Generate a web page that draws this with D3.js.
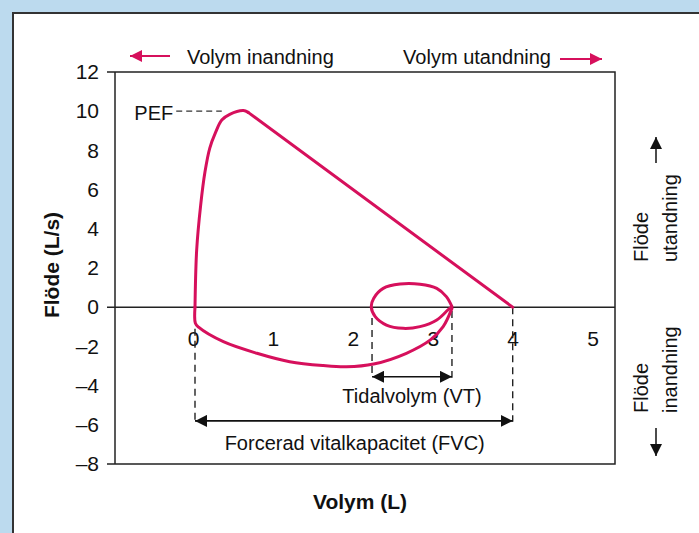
<!DOCTYPE html>
<html>
<head>
<meta charset="utf-8">
<script src="https://cdn.jsdelivr.net/npm/d3@7"></script>
<style>
  html, body { margin: 0; padding: 0; background: #bcdaee; }
  svg { display: block; font-family: "Liberation Sans", Arial, sans-serif; }
</style>
</head>
<body>
<div id="chart"></div>
<script>
// ticks
var xTicks = [0, 1, 2, 3, 4, 5];
var yTicks = [12, 10, 8, 6, 4, 2, 0, -2, -4, -6, -8];

// expiration: steep rise to PEF, then straight fall to residual volume
var expCurve = [[0.025, 0], [0.046, 2.92], [0.096, 5.21], [0.15, 6.91], [0.21, 8.12],
                [0.28, 8.89], [0.36, 9.55], [0.46, 9.84], [0.63, 10.03], [0.69, 9.94]];
var expLine = [[0.69, 9.94], [4.0, 0]];

// inspiration (below the axis)
var inspCurve = [[0.025, 0], [0.03, -0.82], [0.07, -1.02], [0.38, -1.76], [0.80, -2.35],
                 [1.21, -2.78], [1.63, -2.98], [1.92, -3.04], [2.26, -2.90], [2.67, -2.35],
                 [2.97, -1.67], [3.13, -0.99], [3.24, -0.06]];

// tidal breathing loop
var tidalLoop = [[3.24, 0.03], [3.17, 0.54], [3.05, 0.96], [2.84, 1.17], [2.59, 1.18],
                 [2.38, 0.96], [2.26, 0.45], [2.23, 0.03], [2.28, -0.48], [2.42, -0.91],
                 [2.63, -1.08], [2.84, -0.99], [3.05, -0.65], [3.19, -0.14], [3.24, 0.03]];

var pefFlow = 10;
var pefDash = [-0.21, 0.36];
var tidalRange = [2.24, 3.24];
var fvcRange = [0.025, 4.0];

var red = "#d6105c";
var ink = "#111";
var fs = "20px";

var W = 699, H = 533;
var plotLeft = 115, plotRight = 615, plotTop = 72, plotBottom = 464;

var svg = d3.select("#chart")
  .append("svg")
    .attr("width", W)
    .attr("height", H);

// white panel
svg.append("rect")
  .attr("x", 13).attr("y", 13)
  .attr("width", W).attr("height", H)
  .attr("fill", "#fff")
  .attr("stroke", "#333")
  .attr("stroke-width", 2);

var x = d3.scaleLinear().domain([0, 4]).range([193, 512.7]);
var y = d3.scaleLinear().domain([-8, 12]).range([plotBottom, plotTop]);

var defs = svg.append("defs");
function marker(id, colour) {
  defs.append("marker")
    .attr("id", id)
    .attr("viewBox", "0 0 12 12")
    .attr("refX", 12).attr("refY", 6)
    .attr("markerWidth", 12).attr("markerHeight", 12)
    .attr("markerUnits", "userSpaceOnUse")
    .attr("orient", "auto-start-reverse")
    .append("path")
      .attr("d", "M0,0 L12,6 L0,12 Z")
      .attr("fill", colour);
}
marker("arrRed", red);
marker("arrBlack", ink);

// frame: box lines, top/bottom extend left as ticks
svg.append("path")
  .attr("d", "M107," + plotTop + "H" + plotRight + "V" + plotBottom + "H107")
  .attr("fill", "none").attr("stroke", "#222").attr("stroke-width", 1.5);
svg.append("line")
  .attr("x1", plotLeft).attr("x2", plotLeft)
  .attr("y1", plotTop).attr("y2", plotBottom)
  .attr("stroke", "#222").attr("stroke-width", 1.5);
svg.append("line")
  .attr("x1", 107).attr("x2", plotRight)
  .attr("y1", y(0)).attr("y2", y(0))
  .attr("stroke", "#222").attr("stroke-width", 1.5);

var fmt = function(d) { return d < 0 ? "\u2013" + Math.abs(d) : d; };

var yAxis = svg.append("g")
  .attr("transform", "translate(107,0)")
  .call(d3.axisLeft(y).tickValues(yTicks).tickSize(0).tickPadding(8).tickFormat(fmt));
yAxis.select(".domain").remove();
yAxis.selectAll("text").style("font-size", "21px").attr("fill", ink)
  .style("font-family", "Liberation Sans, Arial, sans-serif");

var xAxis = svg.append("g")
  .attr("transform", "translate(0," + y(0) + ")")
  .call(d3.axisBottom(x).tickValues(xTicks).tickSize(0).tickPadding(24).tickFormat(fmt));
xAxis.select(".domain").remove();
xAxis.selectAll("text").style("font-size", "21px").attr("fill", ink)
  .style("font-family", "Liberation Sans, Arial, sans-serif");

// axis titles
svg.append("text")
  .attr("transform", "translate(59," + 265 + ") rotate(-90)")
  .attr("text-anchor", "middle")
  .style("font-size", "21px").style("font-weight", "bold")
  .attr("fill", ink)
  .text("Flöde (L/s)");
svg.append("text")
  .attr("x", 360).attr("y", 509)
  .attr("text-anchor", "middle")
  .style("font-size", "21px").style("font-weight", "bold")
  .attr("fill", ink)
  .text("Volym (L)");

// top direction labels
svg.append("text").attr("x", 187).attr("y", 64)
  .style("font-size", fs).attr("fill", ink).text("Volym inandning");
svg.append("line").attr("x1", 170).attr("x2", 130).attr("y1", 56).attr("y2", 56)
  .attr("stroke", red).attr("stroke-width", 2).attr("marker-end", "url(#arrRed)");
svg.append("text").attr("x", 551).attr("y", 64).attr("text-anchor", "end")
  .style("font-size", fs).attr("fill", ink).text("Volym utandning");
svg.append("line").attr("x1", 560).attr("x2", 602).attr("y1", 59).attr("y2", 59)
  .attr("stroke", red).attr("stroke-width", 2).attr("marker-end", "url(#arrRed)");

// right side labels
function sideLabel(lines, baseX, startY) {
  lines.forEach(function(t, i) {
    svg.append("text")
      .attr("transform", "translate(" + (baseX + i * 29) + "," + startY + ") rotate(-90)")
      .style("font-size", fs).attr("fill", ink)
      .text(t);
  });
}
sideLabel(["Flöde", "utandning"], 648, 262);
sideLabel(["Flöde", "inandning"], 648, 413);
svg.append("line").attr("x1", 656).attr("x2", 656).attr("y1", 163).attr("y2", 137)
  .attr("stroke", ink).attr("stroke-width", 1.5).attr("marker-end", "url(#arrBlack)");
svg.append("line").attr("x1", 656).attr("x2", 656).attr("y1", 428).attr("y2", 456)
  .attr("stroke", ink).attr("stroke-width", 1.5).attr("marker-end", "url(#arrBlack)");

// PEF
svg.append("line")
  .attr("x1", x(pefDash[0])).attr("x2", x(pefDash[1]))
  .attr("y1", y(pefFlow)).attr("y2", y(pefFlow))
  .attr("stroke", "#333").attr("stroke-width", 1.3).attr("stroke-dasharray", "6,4");
svg.append("text")
  .attr("x", x(pefDash[0]) - 3).attr("y", y(pefFlow) + 9)
  .attr("text-anchor", "end")
  .style("font-size", fs).attr("fill", ink)
  .text("PEF");

// dashed guides
function vdash(v, f0, f1) {
  svg.append("line")
    .attr("x1", x(v)).attr("x2", x(v))
    .attr("y1", y(f0)).attr("y2", y(f1))
    .attr("stroke", "#222").attr("stroke-width", 1.4).attr("stroke-dasharray", "7,5");
}
vdash(fvcRange[0], -1.1, -5.85);
vdash(fvcRange[1], 0, -5.85);
vdash(tidalRange[0], -0.55, -3.6);
vdash(tidalRange[1], -0.2, -3.6);

function hArrow(a, b, f) {
  svg.append("line")
    .attr("x1", x(a)).attr("x2", x(b))
    .attr("y1", y(f)).attr("y2", y(f))
    .attr("stroke", ink).attr("stroke-width", 1.6)
    .attr("marker-start", "url(#arrBlack)")
    .attr("marker-end", "url(#arrBlack)");
}
hArrow(tidalRange[0], tidalRange[1], -3.55);
hArrow(fvcRange[0], fvcRange[1], -5.8);

svg.append("text")
  .attr("x", (x(tidalRange[0]) + x(tidalRange[1])) / 2).attr("y", 402.7)
  .attr("text-anchor", "middle")
  .style("font-size", fs).attr("fill", ink)
  .text("Tidalvolym (VT)");
svg.append("text")
  .attr("x", 354.7).attr("y", 450)
  .attr("text-anchor", "middle")
  .style("font-size", fs).attr("fill", ink)
  .text("Forcerad vitalkapacitet (FVC)");

// curves
var smooth = d3.line()
  .x(function(d) { return x(d[0]); })
  .y(function(d) { return y(d[1]); })
  .curve(d3.curveCatmullRom.alpha(0.5));
var straight = d3.line()
  .x(function(d) { return x(d[0]); })
  .y(function(d) { return y(d[1]); });

[[expCurve, smooth], [expLine, straight], [inspCurve, smooth], [tidalLoop, smooth]].forEach(function(p) {
  svg.append("path")
    .attr("d", p[1](p[0]))
    .attr("fill", "none")
    .attr("stroke", red)
    .attr("stroke-width", 3)
    .attr("stroke-linejoin", "round")
    .attr("stroke-linecap", "round");
});
</script>
</body>
</html>
